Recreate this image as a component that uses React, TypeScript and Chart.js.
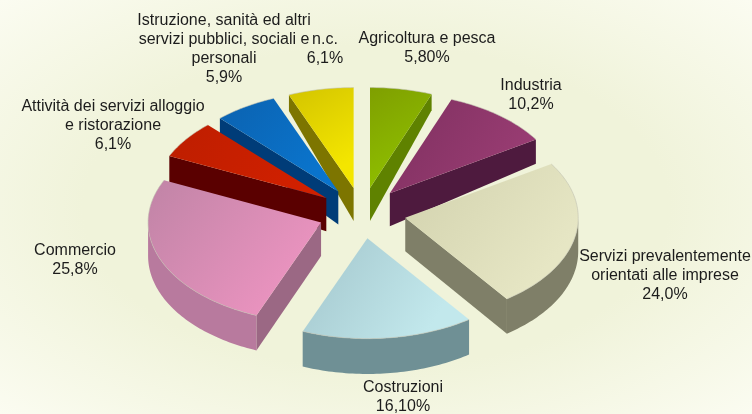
import React, { useEffect, useRef } from "react";
import { Chart, registerables } from "chart.js";

Chart.register(...registerables);

const categories = [
  "Agricoltura e pesca",
  "Industria",
  "Servizi prevalentemente orientati alle imprese",
  "Costruzioni",
  "Commercio",
  "Attività dei servizi alloggio e ristorazione",
  "Istruzione, sanità ed altri servizi pubblici, sociali e personali",
  "n.c.",
];
const values = [5.8, 10.2, 24.0, 16.1, 25.8, 6.1, 5.9, 6.1];
const valueLabels = ["5,80%", "10,2%", "24,0%", "16,10%", "25,8%", "6,1%", "5,9%", "6,1%"];
const labelLines = [
  ["Agricoltura e pesca"],
  ["Industria"],
  ["Servizi prevalentemente", "orientati alle imprese"],
  ["Costruzioni"],
  ["Commercio"],
  ["Attività dei servizi alloggio", "e ristorazione"],
  ["Istruzione, sanità ed altri", "servizi pubblici, sociali e", "personali"],
  ["n.c."],
];
const labelCenters = [
  [427, 39], [531, 86], [665, 257], [403, 388],
  [75, 251], [113, 107], [224, 21], [325, 40],
];
const topDark = ["#7f9f00", "#7f3060", "#d2d2ae", "#a3c6cc", "#c084a6", "#bd1e00", "#0b62b0", "#d3c400"];
const topLight = ["#8fbf00", "#983c72", "#e6e6c4", "#c2e8ec", "#ea93bf", "#d02000", "#0a74cc", "#f4e600"];
const wallColors = ["#5f8200", "#4e1a3e", "#7f7f68", "#6c8c92", "#9b6884", "#5a0000", "#003c78", "#7d7500"];
const rimColors = ["#5f8200", "#4e1a3e", "#7f7f68", "#6f9095", "#b87a9e", "#5a0000", "#003c78", "#7d7500"];

const TILT = 0.58;
const EXPLODE = 44;

function depthAt(y: number) {
  if (y >= 187) return 33 + (y - 187) * 0.015;
  return Math.max(16, 33 - (187 - y) * 0.185);
}

const pie3d = {
  id: "pie3d",
  beforeDatasetsDraw(chart: any) {
    const ctx: CanvasRenderingContext2D = chart.ctx;
    const arcs: any[] = chart.getDatasetMeta(0).data;
    const order = arcs
      .map((arc, i) => ({ arc, i, mid: (arc.startAngle + arc.endAngle) / 2 }))
      .sort((a, b) => Math.sin(a.mid) - Math.sin(b.mid));

    ctx.save();
    ctx.filter = "blur(0.5px)";
    for (const { arc, i, mid } of order) {
      const cx = arc.x + Math.cos(mid) * EXPLODE;
      const cy = arc.y + Math.sin(mid) * EXPLODE * TILT;
      const R = arc.outerRadius;
      const at = (a: number) => [cx + Math.cos(a) * R, cy + Math.sin(a) * R * TILT];
      const down = (p: number[]) => [p[0], p[1] + depthAt(p[1])];
      const arcPts = (a0: number, a1: number) => {
        const out: number[][] = [];
        const n = Math.max(2, Math.ceil(Math.abs(a1 - a0) / 0.02));
        for (let k = 0; k <= n; k++) out.push(at(a0 + ((a1 - a0) * k) / n));
        return out;
      };
      const trace = (pts: number[][]) => {
        ctx.beginPath();
        pts.forEach((p, k) => (k ? ctx.lineTo(p[0], p[1]) : ctx.moveTo(p[0], p[1])));
      };
      const poly = (pts: number[][], fill: string | CanvasGradient) => {
        trace(pts);
        ctx.closePath();
        ctx.fillStyle = fill;
        ctx.fill();
      };
      const apex = [cx, cy];

      // a cut face is visible when its outward normal points down the screen
      if (-Math.cos(arc.startAngle) > 0) {
        const o = at(arc.startAngle);
        poly([apex, o, down(o), down(apex)], wallColors[i]);
      }
      if (Math.cos(arc.endAngle) > 0) {
        const o = at(arc.endAngle);
        poly([apex, o, down(o), down(apex)], wallColors[i]);
      }
      // outer wall: only the part of the rim on the viewer's side
      const s = Math.max(arc.startAngle, 0);
      const e = Math.min(arc.endAngle, Math.PI);
      if (e > s) {
        const rim = arcPts(s, e);
        poly([...rim, ...rim.slice().reverse().map(down)], rimColors[i]);
      }
      // top face
      const top = [apex, ...arcPts(arc.startAngle, arc.endAngle)];
      const xs = top.map((p) => p[0]);
      const ys = top.map((p) => p[1]);
      const g = ctx.createLinearGradient(Math.min(...xs), Math.min(...ys), Math.max(...xs), Math.max(...ys));
      g.addColorStop(0, topDark[i]);
      g.addColorStop(0.8, topLight[i]);
      g.addColorStop(1, topLight[i]);
      poly(top, g);
      // thin pale rim on the top edge
      trace(arcPts(arc.startAngle, arc.endAngle));
      ctx.strokeStyle = "rgba(190,190,175,0.55)";
      ctx.lineWidth = 1;
      ctx.stroke();
    }
    ctx.restore();
    return false;
  },
  afterDraw(chart: any) {
    const ctx: CanvasRenderingContext2D = chart.ctx;
    ctx.save();
    ctx.font = '16px "Liberation Sans", Arial, sans-serif';
    ctx.fillStyle = "#1c1c1c";
    ctx.textAlign = "center";
    ctx.textBaseline = "middle";
    ctx.filter = "blur(0.3px)";
    categories.forEach((_, i) => {
      const [x, y] = labelCenters[i];
      [...labelLines[i], valueLabels[i]].forEach((line, k) => ctx.fillText(line, x, y + k * 19));
    });
    ctx.restore();
  },
};

export default function App() {
  const ref = useRef<HTMLCanvasElement>(null);
  useEffect(() => {
    const chart = new Chart(ref.current!, {
      type: "pie",
      data: { labels: categories, datasets: [{ data: values, backgroundColor: topLight, borderWidth: 0 }] },
      options: {
        responsive: false,
        animation: false,
        radius: 173,
        layout: { padding: { right: 28, top: 12 } },
        plugins: { legend: { display: false }, tooltip: { enabled: false } },
      } as any,
      plugins: [pie3d],
    });
    return () => chart.destroy();
  }, []);
  return (
    <div
      style={{
        position: "fixed",
        left: 0,
        top: 0,
        width: 752,
        height: 414,
        background: "radial-gradient(ellipse at 50% 50%, #f0f3da 55%, #fbfcf1 100%)",
      }}
    >
      <canvas ref={ref} width={752} height={414} style={{ display: "block" }} />
    </div>
  );
}
